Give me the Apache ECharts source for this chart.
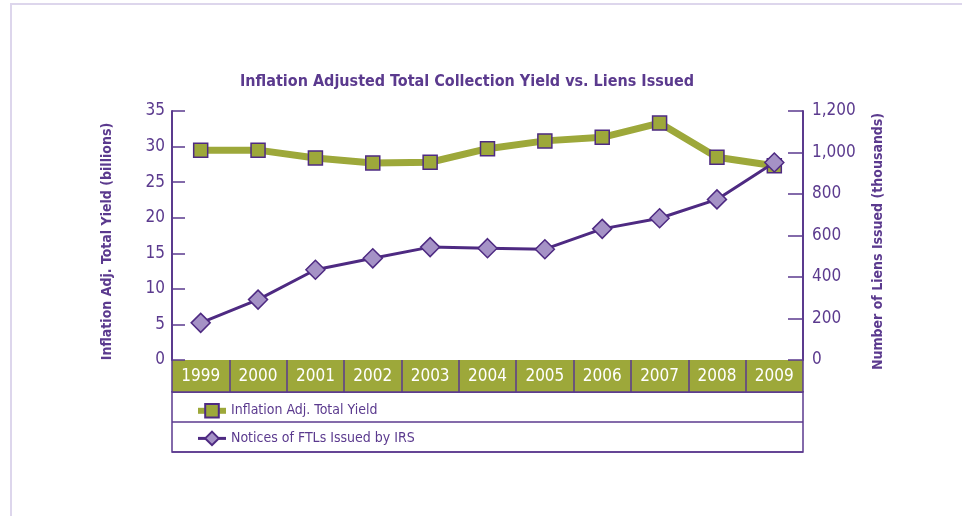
<!DOCTYPE html>
<html>
<head>
<meta charset="utf-8">
<script src="https://cdn.jsdelivr.net/npm/echarts@6/dist/echarts.min.js"></script>
<style>
  html, body { margin: 0; padding: 0; background: #fff; }
  #frame { position: absolute; left: 10px; top: 3px; width: 960px; height: 520px;
           border-top: 2px solid #ddd6ec; border-left: 2px solid #ddd6ec; }
  #main { position: absolute; left: 0; top: 0; width: 962px; height: 516px; }
</style>
</head>
<body>
<div id="frame"></div>
<div id="main"></div>
<script>
// data
var years = ['1999', '2000', '2001', '2002', '2003', '2004', '2005', '2006', '2007', '2008', '2009'];
var totalYield = [29.5, 29.5, 28.4, 27.7, 27.8, 29.7, 30.8, 31.3, 33.3, 28.5, 27.3];
var liensIssued = [179, 291, 435, 490, 544, 539, 534, 632, 683, 774, 952];
var yieldTicks = { min: 0, max: 35, interval: 5 };
var liensTicks = { min: 0, max: 1200, interval: 200 };

var purple = '#5b3a8e';
var darkPurple = '#4e2a82';
var olive = '#9da83a';
var lavender = '#a592c6';
var font = '"Liberation Sans Narrow", "DejaVu Sans Condensed", "Liberation Sans", sans-serif';

var chart = echarts.init(document.getElementById('main'));

var option = {
    animation: false,
    textStyle: { fontFamily: font },
    title: {
        text: 'Inflation Adjusted Total Collection Yield vs. Liens Issued',
        left: 235,
        top: 69,
        textStyle: { color: purple, fontSize: 16, fontWeight: 'bold', fontFamily: font }
    },
    legend: {
        orient: 'vertical',
        left: 190,
        top: 398,
        itemGap: 12,
        itemWidth: 28,
        itemHeight: 17,
        textStyle: { color: purple, fontSize: 14, fontFamily: font },
        data: [
            { name: 'Inflation Adj. Total Yield', lineStyle: { width: 6 } },
            { name: 'Notices of FTLs Issued by IRS', lineStyle: { width: 3 } }
        ]
    },
    grid: [
        { left: 172, right: 159, top: 111, height: 249 },
        { left: 172, right: 159, top: 360, height: 32 },
        // legend box
        { left: 172, right: 159, top: 392, height: 60, show: true, borderColor: purple, borderWidth: 1.5 }
    ],
    xAxis: [
        {
            type: 'category', gridIndex: 0, data: years, boundaryGap: true,
            axisLine: { show: false }, axisTick: { show: false }, axisLabel: { show: false }
        },
        {
            type: 'category', gridIndex: 1, data: years, boundaryGap: true,
            axisLine: { show: true, lineStyle: { color: purple, width: 1.5 } },
            axisTick: { show: false },
            splitLine: { show: true, interval: 0, lineStyle: { color: purple, width: 1.5 } },
            splitArea: { show: true, interval: 0, areaStyle: { color: [olive, olive] } },
            axisLabel: { inside: true, interval: 0, margin: 7, color: '#fff', fontSize: 17, fontFamily: font }
        },
        {
            type: 'value', gridIndex: 2, show: false
        }
    ],
    yAxis: [
        {
            type: 'value', gridIndex: 0, position: 'left',
            min: yieldTicks.min, max: yieldTicks.max, interval: yieldTicks.interval,
            name: 'Inflation Adj. Total Yield (billions)',
            nameLocation: 'middle', nameGap: 58,
            nameTextStyle: { color: purple, fontSize: 14, fontWeight: 'bold', fontFamily: font, padding: [0, 12, 0, 0] },
            axisLine: { show: true, lineStyle: { color: purple, width: 2 } },
            axisTick: { show: true, inside: true, length: 13, lineStyle: { color: purple, width: 1.5 } },
            axisLabel: { color: purple, fontSize: 17, margin: 7, fontFamily: font },
            splitLine: { show: false }
        },
        {
            type: 'value', gridIndex: 0, position: 'right',
            min: liensTicks.min, max: liensTicks.max, interval: liensTicks.interval,
            name: 'Number of Liens Issued (thousands)',
            nameLocation: 'middle', nameGap: 68,
            nameTextStyle: { color: purple, fontSize: 14, fontWeight: 'bold', fontFamily: font, padding: [0, 12, 0, 0] },
            axisLine: { show: true, lineStyle: { color: purple, width: 2 } },
            axisTick: { show: true, inside: true, length: 15, lineStyle: { color: purple, width: 1.5 } },
            axisLabel: {
                color: purple, fontSize: 17, margin: 9, fontFamily: font,
                formatter: function (v) { return v.toLocaleString('en-US'); }
            },
            splitLine: { show: false }
        },
        { type: 'value', gridIndex: 1, show: false },
        {
            type: 'value', gridIndex: 2, min: 0, max: 2, interval: 1,
            axisLine: { show: false }, axisTick: { show: false }, axisLabel: { show: false },
            splitLine: { show: true, lineStyle: { color: purple, width: 1.5 } }
        }
    ],
    series: [
        {
            name: 'Inflation Adj. Total Yield',
            type: 'line',
            xAxisIndex: 0, yAxisIndex: 0,
            data: totalYield,
            symbol: 'rect',
            symbolSize: 14,
            lineStyle: { color: olive, width: 7 },
            itemStyle: { color: olive, borderColor: darkPurple, borderWidth: 1.5 },
            z: 2
        },
        {
            name: 'Notices of FTLs Issued by IRS',
            type: 'line',
            xAxisIndex: 0, yAxisIndex: 1,
            data: liensIssued,
            symbol: 'diamond',
            symbolSize: 19,
            lineStyle: { color: darkPurple, width: 3 },
            itemStyle: { color: lavender, borderColor: darkPurple, borderWidth: 1.5 },
            z: 3
        }
    ]
};

chart.setOption(option);
</script>
</body>
</html>
